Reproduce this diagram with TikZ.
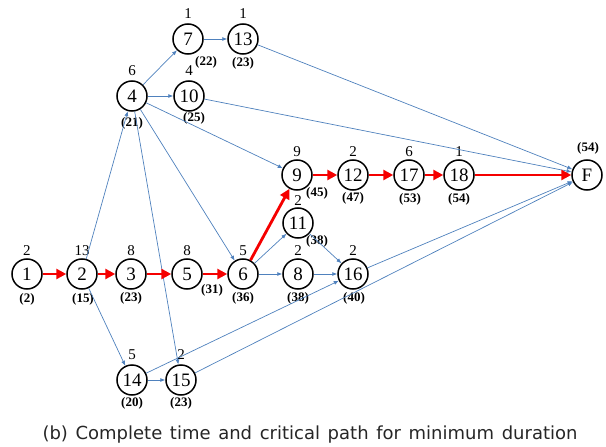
\documentclass[tikz,border=0pt]{standalone}
\usepackage{fontspec}
\setmainfont{Liberation Serif}
\newfontfamily\capfont{DejaVu Sans}
\usetikzlibrary{arrows.meta}
\definecolor{eblue}{RGB}{79,129,189}
\definecolor{ered}{RGB}{245,0,0}
\begin{document}
\begin{tikzpicture}[x=1pt,y=-1pt,
  ev/.style={circle, draw=black, line width=1.5pt, minimum size=30pt, inner sep=0pt, font=\fontsize{19}{19}\selectfont},
  dur/.style={inner sep=0pt, font=\fontsize{15}{15}\selectfont},
  ct/.style={inner sep=0pt, font=\fontsize{13}{13}\selectfont\bfseries},
  crit/.style={draw=ered, line width=2.8pt, -{Triangle[length=10pt,width=10pt]}},
  blu/.style={draw=eblue, line width=0.7pt, -{Latex[length=5pt,width=4pt]}}]
\useasboundingbox (0,0) rectangle (606,447);
% events
\node[ev] (n1) at (27,274) {1};
\node[ev] (n2) at (82,274) {2};
\node[ev] (n3) at (131,274) {3};
\node[ev] (n5) at (187,274) {5};
\node[ev] (n6) at (243,274) {6};
\node[ev] (n8) at (298,274) {8};
\node[ev] (n16) at (353,274) {16};
\node[ev] (n11) at (298,223) {11};
\node[ev] (n9) at (297,175) {9};
\node[ev] (n12) at (353,175) {12};
\node[ev] (n17) at (409,175) {17};
\node[ev] (n18) at (459,175) {18};
\node[ev] (nF) at (587,175) {F};
\node[ev] (n4) at (132,96) {4};
\node[ev] (n10) at (189,96) {10};
\node[ev] (n7) at (188,39) {7};
\node[ev] (n13) at (243,39) {13};
\node[ev] (n14) at (132,380) {14};
\node[ev] (n15) at (181,380) {15};
% durations
\node[dur] (d1) at (27,251) {2};
\node[dur] (d2) at (82,251) {13};
\node[dur] (d3) at (131,251) {8};
\node[dur] (d5) at (187,251) {8};
\node[dur] (d6) at (243,251) {5};
\node[dur] (d8) at (298,251) {2};
\node[dur] (d16) at (353,251) {2};
\node[dur] (d11) at (298,201) {2};
\node[dur] (d9) at (297,152) {9};
\node[dur] (d12) at (353,152) {2};
\node[dur] (d17) at (409,152) {6};
\node[dur] (d18) at (459,152) {1};
\node[dur] (d4) at (132,71) {6};
\node[dur] (d10) at (189,71) {4};
\node[dur] (d7) at (188,14) {1};
\node[dur] (d13) at (243,14) {1};
\node[dur] (d14) at (132,355) {5};
\node[dur] (d15) at (181,355) {2};
% completion times
\node[ct] (c1) at (27,299) {(2)};
\node[ct] (c2) at (83,299) {(15)};
\node[ct] (c3) at (131,298) {(23)};
\node[ct] (c5) at (212,290) {(31)};
\node[ct] (c6) at (243,298) {(36)};
\node[ct] (c8) at (298,298) {(38)};
\node[ct] (c16) at (354,298) {(40)};
\node[ct] (c11) at (317,241) {(38)};
\node[ct] (c9) at (317,193) {(45)};
\node[ct] (c12) at (353,198) {(47)};
\node[ct] (c17) at (410,199) {(53)};
\node[ct] (c18) at (459,199) {(54)};
\node[ct] (cF) at (588,148) {(54)};
\node[ct] (c4) at (132,123) {(21)};
\node[ct] (c10) at (194,118) {(25)};
\node[ct] (c7) at (206,62) {(22)};
\node[ct] (c13) at (243,63) {(23)};
\node[ct] (c14) at (132,403) {(20)};
\node[ct] (c15) at (181,403) {(23)};
% non-critical activities
\draw[blu] (n2) -- (n4);
\draw[blu] (n2) -- (n14);
\draw[blu] (n4) -- (n7);
\draw[blu] (n4) -- (n10);
\draw[blu] (n4) -- (n9);
\draw[blu] (n4) -- (n6);
\draw[blu] (n4) -- (n15);
\draw[blu] (n7) -- (n13);
\draw[blu] (n13) -- (nF);
\draw[blu] (n10) -- (nF);
\draw[blu] (n6) -- (n11);
\draw[blu] (n6) -- (n8);
\draw[blu] (n11) -- (n16);
\draw[blu] (n8) -- (n16);
\draw[blu] (n14) -- (n15);
\draw[blu] (n14) -- (n16);
\draw[blu] (n15) -- (nF);
\draw[blu] (n16) -- (nF);
% critical path
\draw[crit] (n1) -- (n2);
\draw[crit] (n2) -- (n3);
\draw[crit] (n3) -- (n5);
\draw[crit] (n5) -- (n6);
\draw[crit] (n6) -- (n9);
\draw[crit] (n9) -- (n12);
\draw[crit] (n12) -- (n17);
\draw[crit] (n17) -- (n18);
\draw[crit] (n18) -- (nF);
% caption
\node[anchor=base, inner sep=0pt, font=\capfont\fontsize{18}{18}\selectfont, text=black!85] (cap) at (310,439)
  {\makebox[535pt][s]{(b) Complete time and critical path for minimum duration}};
\end{tikzpicture}
\end{document}
